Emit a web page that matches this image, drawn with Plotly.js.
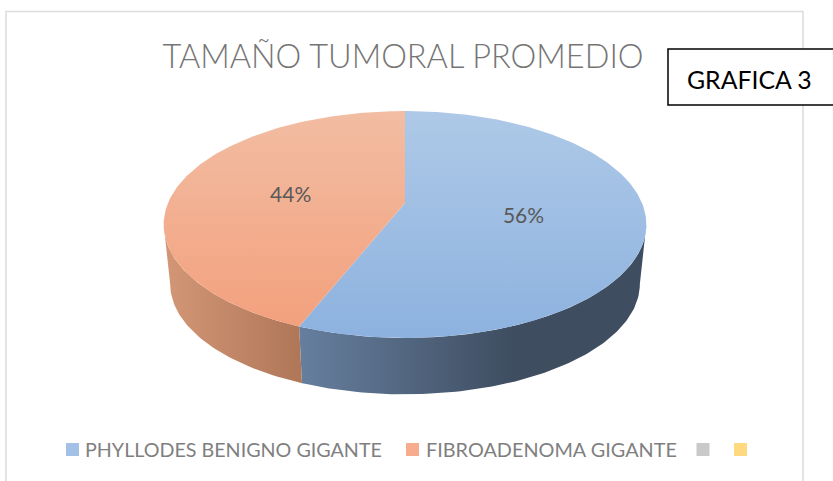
<!DOCTYPE html>
<html>
<head>
<meta charset="utf-8">
<script src="https://cdn.plot.ly/plotly-3.0.1.min.js"></script>
<style>html,body{margin:0;padding:0;background:#fff;overflow:hidden}#chart{width:833px;height:481px}</style>
</head>
<body>
<div id="chart"></div>
<script>
// ---- data ----
const categories = ['PHYLLODES BENIGNO GIGANTE', 'FIBROADENOMA GIGANTE', '', ''];
const percents = [56, 44, 0, 0];
const swatchColors = ['#A3C1E6', '#F7AD8D', '#C9C9C9', '#FFD97F'];
const topGradients = [['#AEC9E7', '#8DB2DF'], ['#F2BDA3', '#F39F7B']];
const sideGradients = [
  [[0, '#667F9F'], [0.62, '#3E4D60'], [1, '#3E4D60']],
  [[0, '#D39776'], [1, '#AF7658']]
];

// ---- tilted-disc projection (perspective of a circle) ----
const cx = 405, apexTop = 203, apexBottom = 263, A = 237, B = 109.4, k = 0.1894, sBottom = 0.973;
function project(deg, r, apexY, s) {
  const t = deg * Math.PI / 180, u = r * Math.sin(t), v = -r * Math.cos(t), d = 1 - k * v;
  return [cx + s * A * u / d, apexY + s * B * v / d];
}
function arc(a0, a1, apexY, s) {
  const pts = [], n = Math.max(2, Math.ceil(Math.abs(a1 - a0)));
  for (let i = 0; i <= n; i++) pts.push(project(a0 + (a1 - a0) * i / n, 1, apexY, s));
  return pts;
}
const silhouette = Math.asin(k) * 180 / Math.PI;
const traces = [];
const boundaries = [];
let acc = 0;
percents.forEach(p => { boundaries.push([acc, acc + p * 3.6]); acc += p * 3.6; });

// side walls
[[90 + silhouette, boundaries[0][1]], [boundaries[1][0], 270 - silhouette]].forEach((rng, i) => {
  const pts = arc(rng[0], rng[1], apexTop, 1).concat(arc(rng[1], rng[0], apexBottom, sBottom));
  traces.push({
    type: 'scatter', mode: 'lines', x: pts.map(q => q[0]), y: pts.map(q => q[1]),
    fill: 'toself', line: {width: 0}, hoverinfo: 'skip', showlegend: false,
    fillgradient: {type: 'horizontal', colorscale: sideGradients[i]}
  });
});

// top faces
[0, 1].forEach(i => {
  const pts = [[cx, apexTop]].concat(arc(boundaries[i][0], boundaries[i][1], apexTop, 1));
  pts.push([cx, apexTop]);
  traces.push({
    type: 'scatter', mode: 'lines', x: pts.map(q => q[0]), y: pts.map(q => q[1]),
    fill: 'toself', line: {width: 0}, name: categories[i], hoverinfo: 'name', showlegend: false,
    fillgradient: {type: 'vertical', start: 111, stop: 338,
      colorscale: [[0, topGradients[i][0]], [1, topGradients[i][1]]]}
  });
});

// percent labels
const labelPts = [0, 1].map(i => project((boundaries[i][0] + boundaries[i][1]) / 2, 0.5, apexTop + 4, 1));
traces.push({
  type: 'scatter', mode: 'text', x: labelPts.map(q => q[0]), y: labelPts.map(q => q[1]),
  text: percents.slice(0, 2).map(p => p + '%'), textposition: 'middle center',
  textfont: {family: 'Lato', size: 21, color: '#595959'}, hoverinfo: 'skip', showlegend: false
});

// legend swatches
const swatchX = [72.5, 412.5, 703, 740.5];
traces.push({
  type: 'scatter', mode: 'markers', x: swatchX, y: swatchX.map(() => 449.5),
  marker: {symbol: 'square', size: 13, color: swatchColors, line: {width: 0}},
  hoverinfo: 'skip', showlegend: false
});

const layout = {
  width: 833, height: 481, autosize: false,
  margin: {l: 0, r: 0, t: 0, b: 0},
  paper_bgcolor: '#ffffff', plot_bgcolor: '#ffffff', showlegend: false,
  title: {text: 'TAMAÑO TUMORAL PROMEDIO', x: 403 / 833, xanchor: 'center', y: 1 - 57 / 481, yanchor: 'middle',
    font: {family: 'Lato', size: 32.5, weight: 300, color: '#757575'}},
  xaxis: {range: [0, 833], visible: false, fixedrange: true},
  yaxis: {range: [481, 0], visible: false, fixedrange: true},
  shapes: [
    {type: 'rect', xref: 'x', yref: 'y', x0: 6, x1: 803, y0: 11.5, y1: 495, line: {color: '#DCDCDC', width: 1.5}, layer: 'below'},
    {type: 'rect', xref: 'x', yref: 'y', x0: 668, x1: 840, y0: 49, y1: 105, line: {color: '#000000', width: 1.5}, fillcolor: '#ffffff', layer: 'above'}
  ],
  annotations: [
    {text: 'GRAFICA 3', x: 749, y: 79.5, xref: 'x', yref: 'y', showarrow: false, xanchor: 'center', yanchor: 'middle',
      font: {family: 'Lato', size: 24.8, color: '#000000'}},
    {text: categories[0], x: 83, y: 449, xref: 'x', yref: 'y', showarrow: false, xanchor: 'left', yanchor: 'middle',
      font: {family: 'Lato', size: 19.7, color: '#7F7F7F'}},
    {text: categories[1], x: 424, y: 449, xref: 'x', yref: 'y', showarrow: false, xanchor: 'left', yanchor: 'middle',
      font: {family: 'Lato', size: 19.85, color: '#7F7F7F'}}
  ]
};
Plotly.newPlot('chart', traces, layout, {displayModeBar: false, staticPlot: true});
</script>
</body>
</html>
